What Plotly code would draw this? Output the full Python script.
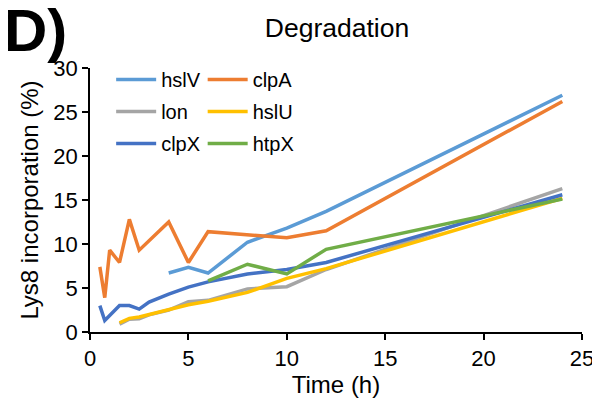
import plotly.graph_objects as go

# Data
t_clpA = [0.5, 0.75, 1, 1.5, 2, 2.5, 4, 5, 6, 10, 12, 24]
clpA = [7.4, 3.9, 9.3, 7.9, 12.8, 9.3, 12.5, 7.9, 11.4, 10.7, 11.5, 26.2]

t_hslV = [4, 5, 6, 8, 10, 12, 24]
hslV = [6.7, 7.35, 6.7, 10.2, 11.8, 13.7, 26.9]

t_clpX = [0.5, 0.75, 1.5, 2, 2.5, 3, 4, 5, 6, 8, 10, 12, 24]
clpX = [3.0, 1.3, 3.0, 3.0, 2.6, 3.4, 4.3, 5.1, 5.7, 6.6, 7.1, 7.9, 15.6]

t_lon = [1.5, 2, 2.5, 3, 4, 5, 6, 8, 10, 12, 24]
lon = [0.9, 1.45, 1.5, 1.95, 2.5, 3.45, 3.6, 4.9, 5.15, 7.1, 16.3]

t_hslU = [1.5, 2, 2.5, 3, 4, 5, 6, 8, 10, 12, 24]
hslU = [1.05, 1.55, 1.7, 2.0, 2.55, 3.1, 3.5, 4.5, 6.1, 7.2, 15.2]

t_htpX = [6, 8, 10, 12, 24]
htpX = [5.8, 7.7, 6.6, 9.4, 15.1]

x_ticks = [0, 5, 10, 15, 20, 25]
y_ticks = [0, 5, 10, 15, 20, 25, 30]

FONT = "Liberation Sans, Arial, sans-serif"

series = [
    ("hslV", t_hslV, hslV, "#5B9BD5", "legend"),
    ("lon", t_lon, lon, "#A5A5A5", "legend"),
    ("clpX", t_clpX, clpX, "#4472C4", "legend"),
    ("clpA", t_clpA, clpA, "#ED7D31", "legend2"),
    ("hslU", t_hslU, hslU, "#FFC000", "legend2"),
    ("htpX", t_htpX, htpX, "#70AD47", "legend2"),
]

fig = go.Figure()
draw_order = ["lon", "hslU", "clpX", "htpX", "hslV", "clpA"]
legend_rank = {"hslV": 1, "lon": 2, "clpX": 3, "clpA": 1, "hslU": 2, "htpX": 3}
lookup = {s[0]: s for s in series}
for name in draw_order:
    n, tx, ty, col, lg = lookup[name]
    fig.add_trace(go.Scatter(
        x=tx, y=ty, mode="lines", name=n,
        line=dict(color=col, width=3.5),
        legend=lg, legendgroup=n, legendrank=legend_rank[n],
    ))

axis_common = dict(
    showgrid=False, zeroline=False, showline=True, linecolor="black", linewidth=1.5,
    ticks="outside", ticklen=6, tickwidth=1.5, tickcolor="black", automargin=False,
    tickfont=dict(family=FONT, size=22, color="black"),
)

W, H = 592, 390
fig.update_layout(
    width=W, height=H,
    margin=dict(l=82, r=18, t=60, b=66),
    paper_bgcolor="white", plot_bgcolor="white",
    font=dict(family=FONT, color="black"),
    title=dict(text="Degradation", x=329 / W, xanchor="center",
               y=1 - 20 / H, yanchor="middle",
               font=dict(family=FONT, size=26.5, color="black")),
    xaxis=dict(range=[0, 25], tickvals=x_ticks,
               title=dict(text="Time (h)", font=dict(family=FONT, size=24), standoff=4),
               **axis_common),
    yaxis=dict(range=[0, 30], tickvals=y_ticks,
               title=dict(text="Lys8 incorporation (%)", font=dict(family=FONT, size=24), standoff=8),
               **axis_common),
    legend=dict(x=0.043, y=1.03, xanchor="left", yanchor="top",
                font=dict(family=FONT, size=20), bgcolor="rgba(0,0,0,0)",
                tracegroupgap=3, traceorder="grouped", itemwidth=40),
    legend2=dict(x=0.229, y=1.03, xanchor="left", yanchor="top",
                 font=dict(family=FONT, size=20), bgcolor="rgba(0,0,0,0)",
                 tracegroupgap=3, traceorder="grouped", itemwidth=40),
    annotations=[dict(text="<b>D)</b>", xref="paper", yref="paper",
                      x=-0.178, y=1.2775, xanchor="left", yanchor="top",
                      showarrow=False, font=dict(family=FONT, size=60, color="black"))],
)

fig.write_html("out.html")
